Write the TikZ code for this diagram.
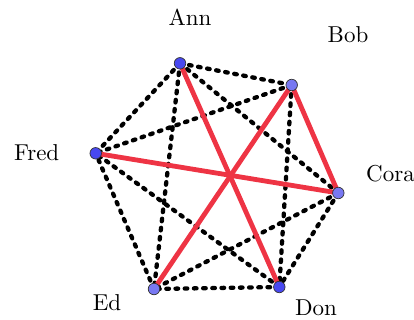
\documentclass[tikz,border=0pt]{standalone}
\usepackage{fontspec}
\newfontfamily\lmten{lmroman10-regular.otf}
\usetikzlibrary{calc}
\definecolor{edgered}{HTML}{EE3444}
\definecolor{vdark}{HTML}{4848F0}
\definecolor{vlight}{HTML}{7878F2}
\tikzset{
  vtx/.style={circle,draw=black!80,line width=0.7pt,minimum size=11.5pt,inner sep=0pt},
  vd/.style={vtx,fill=vdark},
  vl/.style={vtx,fill=vlight},
  lbl/.style={font=\lmten\fontsize{23}{27}\selectfont,inner sep=0pt},
  dotted edge/.style={black,line width=4.3pt,line cap=round,dash pattern=on 2.6pt off 6.6pt},
  red edge/.style={edgered,line width=4.8pt}
}
\begin{document}
\begin{tikzpicture}[x=1pt,y=-1pt]
\useasboundingbox (0,0) rectangle (414,320);
\coordinate (Ann) at (180,63.3);
\coordinate (Bob) at (291.7,85);
\coordinate (Cora) at (338.3,193);
\coordinate (Don) at (279.3,287);
\coordinate (Ed) at (154,289);
\coordinate (Fred) at (95.7,153.3);
% dotted edges
\foreach \a/\b in {Ann/Bob,Ann/Cora,Ann/Ed,Ann/Fred,Bob/Don,Bob/Fred,Cora/Don,Cora/Ed,Don/Ed,Don/Fred,Ed/Fred}
  \draw[dotted edge] (\a) -- (\b);
% red edges
\foreach \a/\b in {Ann/Don,Bob/Ed,Bob/Cora,Fred/Cora}
  \draw[red edge] (\a) -- (\b);
% vertices
\node[vd] (nAnn) at (Ann) {};
\node[vl] (nBob) at (Bob) {};
\node[vl] (nCora) at (Cora) {};
\node[vd] (nDon) at (Don) {};
\node[vl] (nEd) at (Ed) {};
\node[vd] (nFred) at (Fred) {};
% labels
\node[lbl] (tAnn) at (190,17) {Ann};
\node[lbl] (tBob) at (348,35) {Bob};
\node[lbl] (tCora) at (390.5,174) {Cora};
\node[lbl] (tDon) at (316,308) {Don};
\node[lbl] (tEd) at (107,303) {Ed};
\node[lbl] (tFred) at (36.7,153) {Fred};
\end{tikzpicture}
\end{document}
